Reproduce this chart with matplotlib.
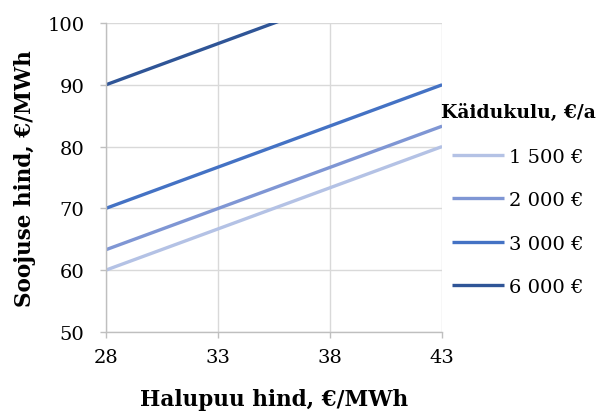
import matplotlib.pyplot as plt

# halupuu hind, €/MWh (x) and soojuse hind, €/MWh (y) for each käidukulu
x_vals = [28, 43]
cost_labels = ["1 500 €", "2 000 €", "3 000 €", "6 000 €"]
y_1500 = [60.0, 80.0]
y_2000 = [63.3, 83.3]
y_3000 = [70.0, 90.0]
y_6000 = [90.0, 110.0]
colors = ["#b4c2e5", "#7f96d4", "#4472c4", "#2f5597"]

x_ticks = [28, 33, 38, 43]
y_ticks = [50, 60, 70, 80, 90, 100]

plt.rcParams['font.family'] = ['DejaVu Serif']

fig = plt.figure(figsize=(6.09, 4.14), dpi=100)
ax = fig.add_axes([0.174, 0.196, 0.552, 0.746])

for ys, lab, c in zip([y_1500, y_2000, y_3000, y_6000], cost_labels, colors):
    ax.plot(x_vals, ys, color=c, lw=2.4, label=lab, solid_capstyle='butt')

ax.set_xlim(28, 43)
ax.set_ylim(50, 100)
ax.set_xticks(x_ticks)
ax.set_yticks(y_ticks)
ax.grid(True, color='#d9d9d9', lw=1)
ax.set_axisbelow(True)
for s in ['top', 'right']:
    ax.spines[s].set_visible(False)
for s in ['left', 'bottom']:
    ax.spines[s].set_color('#bfbfbf')
    ax.spines[s].set_linewidth(1)
ax.tick_params(axis='both', colors='#bfbfbf', labelcolor='black', labelsize=14,
               length=4.5, width=1)
ax.tick_params(axis='y', pad=11)
ax.tick_params(axis='x', pad=7)

ax.set_xlabel("Halupuu hind, €/MWh", fontsize=15.5, fontweight='bold', labelpad=16)
ax.set_ylabel("Soojuse hind, €/MWh", fontsize=15.5, fontweight='bold', labelpad=8)

# legend title sits a bit left of the legend lines, like in the original
fig.text(441 / 609, 1 - 113 / 414, "Käidukulu, €/a", fontsize=13.5, fontweight='bold',
         ha='left', va='center')
leg = ax.legend(loc='upper left', bbox_to_anchor=(452 / 609, 1 - 149 / 414),
                bbox_transform=fig.transFigure, frameon=False, fontsize=14,
                handlelength=2.65, handletextpad=0.3, labelspacing=1.3,
                borderaxespad=0, borderpad=0)

fig.savefig("out.png", dpi=100)
